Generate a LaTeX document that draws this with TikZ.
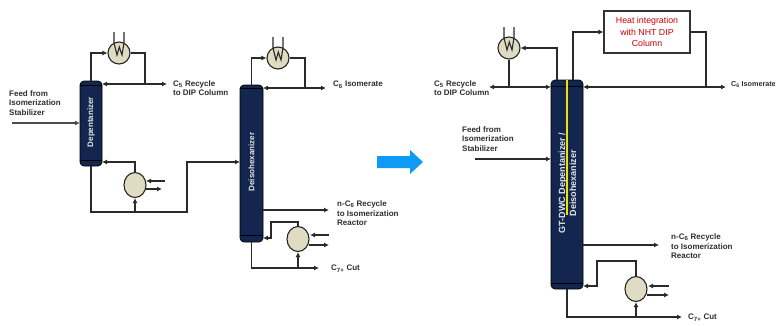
\documentclass[tikz,border=0pt]{standalone}
\usepackage{fontspec}
\setmainfont{Liberation Sans}
\usetikzlibrary{arrows.meta,calc,shapes.geometric}
\definecolor{colnavy}{HTML}{12264F}
\definecolor{hxfill}{HTML}{E0DCC4}
\definecolor{txtgray}{HTML}{2E2E2E}
\definecolor{pipe}{HTML}{2A2A2A}
\definecolor{bigarrow}{HTML}{0F9BF5}
\newcommand{\coil}[1]{\draw[pipe,line width=1.1pt] ($(#1)+(-5,-21)$) -- ($(#1)+(-5,-10)$) -- ($(#1)+(-2,2)$) -- ($(#1)+(0.3,-6)$) -- ($(#1)+(3,2)$) -- ($(#1)+(5,-10)$) -- ($(#1)+(5,-21)$);}
\tikzset{
  x=1pt,y=-1pt,
  column/.style={draw=black,line width=0.7pt,fill=colnavy,minimum width=#1,rounded corners=4pt,inner sep=0pt},
  hx/.style={draw=black!85,line width=1.1pt,fill=hxfill,circle,minimum size=22pt,inner sep=0pt},
  reb/.style={draw=black!85,line width=1.1pt,fill=hxfill,ellipse,minimum width=22pt,minimum height=25pt,inner sep=0pt},
  pipeline/.style={draw=pipe,line width=1.1pt},
  flow/.style={pipeline,-{Latex[length=5pt,width=5pt]}},
  backflow/.style={pipeline,{Latex[length=5pt,width=5pt]}-{Latex[length=5pt,width=5pt]}},
  lbl/.style={anchor=north west,align=left,text=txtgray,font=\fontsize{8}{9.6}\selectfont\bfseries,inner sep=0pt},
  coltext/.style={rotate=90,text=white!90!black,font=\fontsize{8}{9.6}\selectfont\bfseries,align=center,inner sep=0pt},
  tray/.style={draw=black,line width=0.8pt},
}
\begin{document}
\begin{tikzpicture}
\useasboundingbox (0,0) rectangle (779,325);
% ---------- left: dependentanizer
\node[column=22pt,minimum height=85pt] (dep) at (91,123.5) {};
\draw[tray] (dep.west |- 0,85) -- (dep.east |- 0,85);
\draw[tray] (dep.west |- 0,160) -- (dep.east |- 0,160);
\node[coltext] (depT) at (91,122) {Depentanizer};
\node[hx] (c1) at (119,53) {};
\coil{c1}
\node[reb] (r1) at (135,185) {};
\coordinate (c1s) at (145,84);
\coordinate (c1e) at (167,84);
\coordinate (c1w) at (102,84);
\draw[backflow] (c1w) -- (c1e);
\draw[flow] (dep.north) |- (c1.west);
\draw[pipeline] (c1.east) -| (c1s);
\coordinate (feedA) at (12,123);
\coordinate (feedAe) at (80,123);
\draw[flow,draw=black!70,line width=1.3pt] (feedA) -- (feedAe);
\coordinate (r1ret) at (102,162);
\draw[flow] (r1.north) |- (r1ret);
\coordinate (r1in) at (165,181);
\coordinate (r1ine) at (146,181);
\coordinate (r1out) at (146,189);
\coordinate (r1oute) at (162,189);
\draw[flow] (r1in) -- (r1ine);
\draw[flow] (r1out) -- (r1oute);
\coordinate (b1) at (91,212);
\coordinate (b1t) at (135,212);
\coordinate (b1r) at (187,212);
\coordinate (b1u) at (187,162);
\coordinate (deiF) at (240,162);
\draw[flow] (dep.south) -- (b1) -- (b1r) -- (b1u) -- (deiF);
\draw[flow] (b1t) -- (r1.south);
\node[lbl] (lfeed1) at (9,90) {Feed from\\Isomerization\\Stabilizer};
\node[lbl] (lc51) at (173,80) {C\textsubscript{5} Recycle\\to DIP Column};
% ---------- left: deisohexanizer
\node[column=23pt,minimum height=157pt] (dei) at (251.5,163.5) {};
\draw[tray] (dei.west |- 0,88) -- (dei.east |- 0,88);
\draw[tray] (dei.west |- 0,235) -- (dei.east |- 0,235);
\node[coltext] (deiT) at (251.5,162) {Deisohexanizer};
\node[hx] (c2) at (278,58) {};
\coil{c2}
\node[reb] (r2) at (298,239) {};
\coordinate (c2s) at (305,88);
\coordinate (c2e) at (326,88);
\coordinate (c2w) at (263,88);
\draw[backflow] (c2w) -- (c2e);
\draw[flow] (dei.north) |- (c2.west);
\draw[pipeline] (c2.east) -| (c2s);
\coordinate (nc2a) at (263,210);
\coordinate (nc2b) at (329,210);
\draw[flow] (nc2a) -- (nc2b);
\coordinate (r2a) at (298,222);
\coordinate (r2b) at (271,222);
\coordinate (r2c) at (271,238);
\coordinate (r2d) at (263,238);
\draw[flow] (r2.north) -- (r2a) -- (r2b) -- (r2c) -- (r2d);
\coordinate (r2in) at (329,235);
\coordinate (r2ine) at (310,235);
\coordinate (r2out) at (309,245);
\coordinate (r2oute) at (329,245);
\draw[flow] (r2in) -- (r2ine);
\draw[flow] (r2out) -- (r2oute);
\coordinate (b2) at (251.5,268);
\coordinate (b2t) at (298,268);
\coordinate (b2r) at (319,268);
\draw[flow] (dei.south) -- (b2) -- (b2r);
\draw[flow] (b2t) -- (r2.south);
\node[lbl] (lc6) at (333,81) {C\textsubscript{6} Isomerate};
\node[lbl] (lnc6) at (337,200.5) {n-C\textsubscript{6} Recycle\\to Isomerization\\Reactor};
\node[lbl] (lc7) at (331,265) {C\textsubscript{7+} Cut};
% ---------- big arrow
\fill[bigarrow] (377,156) -- (410,156) -- (410,150) -- (423,162) -- (410,174) -- (410,168) -- (377,168) -- cycle;
% ---------- right: DWC
\node[column=32pt,minimum height=209pt] (dwc) at (567,184.5) {};
\draw[tray] (dwc.west |- 0,86.5) -- (dwc.east |- 0,86.5);
\draw[tray] (dwc.west |- 0,283) -- (dwc.east |- 0,283);
\coordinate (ya) at (567,80);
\coordinate (yb) at (567,215);
\draw[yellow!85!olive,line width=1.3pt] (ya) -- (yb);
\node[coltext,font=\fontsize{9}{11}\selectfont\bfseries] (dwcT) at (567.5,183) {GT-DWC Depentanizer /\\Deisohexanizer};
\node[hx] (c3) at (509,48) {};
\coil{c3}
\node[draw=black!80,line width=1.1pt,minimum width=86pt,minimum height=42pt,inner sep=0pt,align=center,text=red!80!black,font=\fontsize{8.8}{11.8}\selectfont] (hi) at (647,32) {Heat integration\\with NHT DIP\\Column};
\coordinate (t1) at (557,80);
\draw[flow] (t1) |- (c3.east);
\coordinate (t2) at (573,80);
\draw[flow] (t2) |- (hi.west);
\coordinate (hl) at (489,87);
\coordinate (hl2) at (551,87);
\coordinate (hr) at (583,87);
\coordinate (hr2) at (726,87);
\coordinate (c3s) at (509,87);
\coordinate (his) at (706,87);
\draw[backflow] (hl) -- (hl2);
\draw[backflow] (hr) -- (hr2);
\draw[pipeline] (c3.south) -- (c3s);
\draw[pipeline] (hi.east) -| (his);
\coordinate (feedB) at (475,159);
\coordinate (feedBe) at (551,159);
\draw[flow] (feedB) -- (feedBe);
\coordinate (nc3a) at (583,245);
\coordinate (nc3b) at (659,245);
\draw[flow] (nc3a) -- (nc3b);
\node[reb] (r3) at (636,289) {};
\coordinate (r3a) at (636,261);
\coordinate (r3b) at (597,261);
\coordinate (r3c) at (597,286);
\coordinate (r3d) at (583,286);
\draw[flow] (r3.north) -- (r3a) -- (r3b) -- (r3c) -- (r3d);
\coordinate (r3in) at (669,286);
\coordinate (r3ine) at (648,286);
\coordinate (r3out) at (647,295);
\coordinate (r3oute) at (669,295);
\draw[flow] (r3in) -- (r3ine);
\draw[flow] (r3out) -- (r3oute);
\coordinate (b3) at (567,317);
\coordinate (b3t) at (636,317);
\coordinate (b3r) at (682,317);
\draw[flow] (dwc.south) -- (b3) -- (b3r);
\draw[flow] (b3t) -- (r3.south);
\node[lbl] (lc52) at (434,80) {C\textsubscript{5} Recycle\\to DIP Column};
\node[lbl,font=\fontsize{7.2}{9.6}\selectfont\bfseries] (lc62) at (731,81.5) {C\textsubscript{6} Isomerate};
\node[lbl] (lfeed2) at (462,126) {Feed from\\Isomerization\\Stabilizer};
\node[lbl] (lnc62) at (671,233.5) {n-C\textsubscript{6} Recycle\\to Isomerization\\Reactor};
\node[lbl] (lc72) at (688,314) {C\textsubscript{7+} Cut};
\end{tikzpicture}
\end{document}
